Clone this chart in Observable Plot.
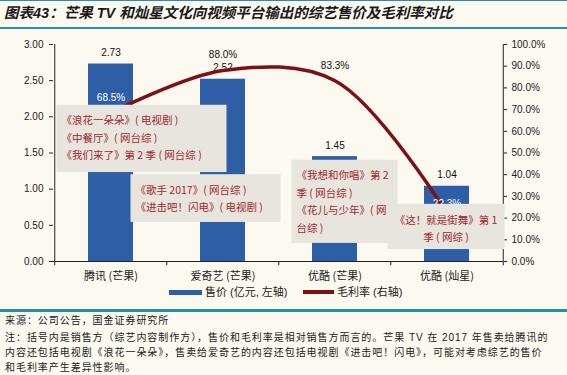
<!DOCTYPE html>
<html><head><meta charset="utf-8">
<script src="https://cdn.jsdelivr.net/npm/d3@7"></script>
<script src="https://cdn.jsdelivr.net/npm/@observablehq/plot@0.6"></script>
<style>
html,body{margin:0;padding:0;}
body{background:#fcf9f0;width:567px;height:375px;position:relative;overflow:hidden;font-family:"Liberation Sans","Noto Sans CJK SC",sans-serif;color:#222;}
#topline{position:absolute;left:0;top:0;width:567px;height:1px;background:#2b8ea3;}
#title{position:absolute;left:4px;top:3px;font-family:"Liberation Sans","Noto Sans CJK SC",sans-serif;font-weight:bold;font-style:italic;font-size:14.5px;line-height:20px;color:#1a1a1a;white-space:nowrap;}
#titleline{position:absolute;left:0;top:27px;width:567px;height:2px;background:#2b8ea3;}
#chart{position:absolute;left:0;top:30px;}
.leg{position:absolute;top:285px;font-size:11px;line-height:14px;white-space:nowrap;font-family:"Liberation Sans","Noto Sans CJK SC",sans-serif;}
.sw{position:absolute;}
#sep{position:absolute;left:0;top:309px;width:567px;height:3px;background:#2b8ea3;}
.note{position:absolute;left:5px;font-size:10px;line-height:14.5px;letter-spacing:0.95px;white-space:nowrap;font-family:"Liberation Sans","Noto Sans CJK SC",sans-serif;color:#222;}
</style></head><body>
<div id="topline"></div>
<div id="title">图表43：芒果 TV 和灿星文化向视频平台输出的综艺售价及毛利率对比</div>
<div id="titleline"></div>
<div id="chart"></div>
<div id="legend"></div>
<div id="sep"></div>
<div id="notes"></div>
<script>
// ---- data ----
const categories = ["腾讯 (芒果)", "爱奇艺 (芒果)", "优酷 (芒果)", "优酷 (灿星)"];
const prices = [2.73, 2.52, 1.45, 1.04];          // 售价（亿元，左轴）
const margins = [68.5, 88.0, 83.3, 22.3];          // 毛利率 %（右轴）
const priceTicks = [0, 0.5, 1.0, 1.5, 2.0, 2.5, 3.0];
const marginTicks = [0, 10, 20, 30, 40, 50, 60, 70, 80, 90, 100];
const annotations = [
  ["《浪花一朵朵》( 电视剧 )", "《中餐厅》( 网台综 )", "《我们来了》第 2 季 ( 网台综 )"],
  ["《歌手 2017》( 网台综 )", "《进击吧！闪电》( 电视剧 )"],
  ["《我想和你唱》第 2", "季 ( 网台综 )", "《花儿与少年》( 网", "台综 )"],
  ["《这！就是街舞》第 1", "季 ( 网综 )"]
];
const legendLabels = ["售价 (亿元, 左轴)", "毛利率 (右轴)"];
const sourceText = "来源：公司公告，国金证券研究所";
const noteLines = [
  "注：括号内是销售方（综艺内容制作方），售价和毛利率是相对销售方而言的。芒果 TV 在 2017 年售卖给腾讯的",
  "内容还包括电视剧《浪花一朵朵》，售卖给爱奇艺的内容还包括电视剧《进击吧！闪电》，可能对考虑综艺的售价",
  "和毛利率产生差异性影响。"
];

// ---- layout / style ----
const W = 567, H = 256, ML = 53, MR = 64, MT = 14, MB = 25;
const BLUE = "#2e5fa6", RED = "#7e0f14", AXIS = "#222";
const priceMax = 3;
const toLeft = p => p * priceMax / 100;  // map % onto left-axis scale
const rows = categories.map((c, i) => ({category: c, price: prices[i], margin: margins[i]}));
const step = (W - ML - MR) / categories.length;
const marginLabelDy = [-15, -16, -15, -9];

const chart = Plot.plot({
  width: W, height: H,
  marginTop: MT, marginBottom: MB, marginLeft: ML, marginRight: MR,
  style: {background: "transparent", fontFamily: "'Liberation Sans','Noto Sans CJK SC',sans-serif", fontSize: "10px", color: AXIS, overflow: "visible"},
  x: {domain: categories, paddingInner: 0.6, paddingOuter: 0.3},
  y: {domain: [0, priceMax]},
  marks: [
    Plot.barY(rows, {x: "category", y: "price", fill: BLUE}),
    Plot.ruleY([0], {stroke: AXIS, strokeWidth: 1.2}),
    Plot.ruleX([categories[0]], {dx: -step / 2, stroke: AXIS}),
    Plot.ruleX([categories[categories.length - 1]], {dx: step / 2, stroke: AXIS}),
    Plot.ruleX(categories, {dx: -step / 2, y1: 0, y2: -0.06, stroke: AXIS}),
    Plot.ruleX([categories[categories.length - 1]], {dx: step / 2, y1: 0, y2: -0.06, stroke: AXIS}),
    Plot.text(rows, {x: "category", y: "price", text: d => d3.format(".2f")(d.price), dy: -11, fill: "#111", fontSize: 10}),
    Plot.line(rows, {x: "category", y: d => toLeft(d.margin), curve: "catmull-rom", stroke: RED, strokeWidth: 3.5}),
    ...rows.map((r, i) => Plot.text([r], {
      x: "category", y: d => toLeft(d.margin), text: d => d.margin.toFixed(1) + "%",
      dy: marginLabelDy[i], fill: toLeft(r.margin) < r.price ? "#fff" : "#111", fontSize: 10
    })),
    Plot.axisY({anchor: "left", ticks: priceTicks, tickFormat: d3.format(".2f"), tickSize: 4, tickPadding: 6, label: null, fontSize: 10, stroke: AXIS}),
    Plot.axisY({anchor: "right", ticks: marginTicks.map(toLeft), tickFormat: v => (v / priceMax * 100).toFixed(1) + "%", tickSize: 3, tickPadding: 5, label: null, fontSize: 10, stroke: AXIS}),
    Plot.axisX({tickSize: 0, tickPadding: 11, label: null, fontSize: 11, fontFamily: "'Noto Sans CJK SC',sans-serif"})
  ]
});
document.getElementById("chart").appendChild(chart);

// ---- callout boxes (anchored to category band and left-axis values) ----
const boxLayout = [
  {dx0: -54, dx1: 116, top: 2.16, bottom: 1.23, align: "start"},
  {dx0: -92, dx1: 58, top: 1.20, bottom: 0.54, align: "start"},
  {dx0: -43, dx1: 63, top: 1.40, bottom: 0.25, align: "start"},
  {dx0: -59, dx1: 58, top: 0.79, bottom: 0.165, align: "middle"}
];
const sx = chart.scale("x"), sy = chart.scale("y");
const g = d3.select(chart).append("g").attr("font-family", "'Noto Sans CJK SC',sans-serif");
annotations.forEach((lines, i) => {
  const c = sx.apply(categories[i]) + (sx.bandwidth || 0) / 2;
  const L = boxLayout[i];
  const top = sy.apply(L.top), bottom = sy.apply(L.bottom);
  g.append("rect").attr("x", c + L.dx0).attr("y", top).attr("width", L.dx1 - L.dx0).attr("height", bottom - top).attr("fill", "#e7e5de");
  lines.forEach((t, j) => {
    g.append("text")
      .attr("x", L.align === "middle" ? c + (L.dx0 + L.dx1) / 2 : c + L.dx0 + 5)
      .attr("y", top + 16 + j * 17.5).attr("dy", "0.35em")
      .attr("text-anchor", L.align).attr("fill", "#a3282d").attr("font-size", 10.5)
      .text(t);
  });
});

// ---- legend ----
const leg = document.getElementById("legend");
leg.innerHTML =
  `<div class="sw" style="left:169px;top:290px;width:33px;height:5px;background:${BLUE}"></div>` +
  `<div class="leg" style="left:205px">${legendLabels[0]}</div>` +
  `<div class="sw" style="left:303px;top:290px;width:31px;height:4px;background:${RED}"></div>` +
  `<div class="leg" style="left:337px">${legendLabels[1]}</div>`;

// ---- source & notes ----
const notes = document.getElementById("notes");
const noteCenters = [321, 338, 353, 367.75];
[sourceText, ...noteLines].forEach((t, i) => {
  const d = document.createElement("div");
  d.className = "note"; d.style.top = (noteCenters[i] - 7.25) + "px"; d.textContent = t;
  notes.appendChild(d);
});
</script>
</body></html>
